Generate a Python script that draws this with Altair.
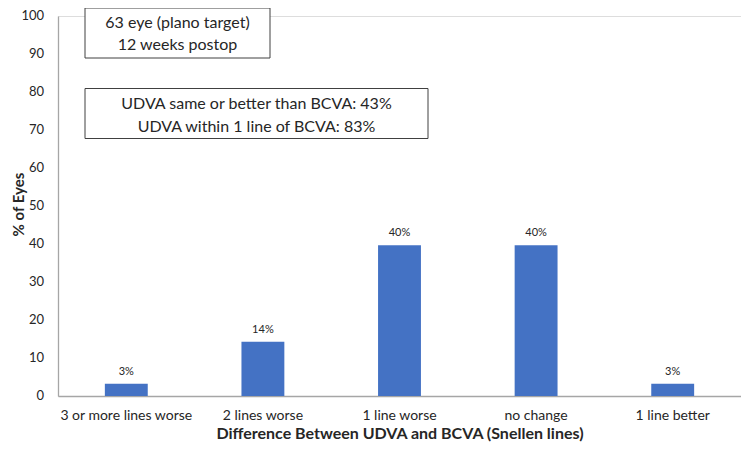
import altair as alt
import pandas as pd

categories = ["3 or more lines worse", "2 lines worse", "1 line worse", "no change", "1 line better"]
percent = [3.2, 14.3, 39.7, 39.7, 3.2]
labels = ["3%", "14%", "40%", "40%", "3%"]
y_ticks = [0, 10, 20, 30, 40, 50, 60, 70, 80, 90, 100]
box1_lines = ["63 eye (plano target)", "12 weeks postop"]
box2_lines = ["UDVA same or better than BCVA: 43%", "UDVA within 1 line of BCVA: 83%"]

df = pd.DataFrame({"cat": categories, "pct": percent, "lab": labels})
dt = pd.DataFrame({"v": y_ticks, "t": [str(v) for v in y_ticks]})

FONT = "Lato"
TXT = "#262626"

yscale = alt.Scale(domain=[0, 100], nice=False)
yaxis = alt.Axis(title="% of Eyes", values=y_ticks, labels=False,
                 grid=False, ticks=False,
                 titleFontSize=15, titleFont=FONT, titleColor=TXT, titleFontWeight="bold",
                 titleX=-40, titleY=188, titleAngle=270, titleAlign="center",
                 titleBaseline="middle",
                 domainColor="#a6a6a6", domainWidth=1.3)

x_enc = alt.X("cat:N", sort=categories,
              scale=alt.Scale(paddingInner=0.686, paddingOuter=0.343),
              axis=alt.Axis(title="Difference Between UDVA and BCVA (Snellen lines)",
                            labelAngle=0, ticks=False, labelPadding=12,
                            labelFontSize=14, labelFont=FONT, labelColor=TXT,
                            titleFontSize=16, titleFont=FONT, titleColor=TXT, titleFontWeight="bold",
                            titleY=37, titleBaseline="middle",
                            domainColor="#a6a6a6", domainWidth=1.3))
y_enc = alt.Y("pct:Q", scale=yscale, axis=yaxis)

base = alt.Chart(df)
bars = base.mark_bar(color="#4472C4").encode(x=x_enc, y=y_enc)
texts = base.mark_text(dy=-12, fontSize=11, font=FONT, color=TXT).encode(
    x=x_enc, y=y_enc, text="lab:N")

ylabels = alt.Chart(dt).mark_text(align="right", baseline="middle", fontSize=13,
                                  font=FONT, color=TXT).encode(
    x=alt.value(-14), y=alt.Y("v:Q", scale=yscale, axis=yaxis), text="t:N")

one = alt.Data(values=[{}])
box1 = alt.Chart(one).mark_rect(fill="white", stroke="#404040", strokeWidth=1).encode(
    x=alt.value(27), x2=alt.value(212), y=alt.value(-8), y2=alt.value(42))
box1_t = alt.Chart(one).mark_text(text=box1_lines, fontSize=16, font=FONT, color=TXT,
                                  lineHeight=22, baseline="middle").encode(
    x=alt.value(119.5), y=alt.value(6.5))
box2 = alt.Chart(one).mark_rect(fill="white", stroke="#404040", strokeWidth=1).encode(
    x=alt.value(27), x2=alt.value(370), y=alt.value(72.5), y2=alt.value(122.5))
box2_t = alt.Chart(one).mark_text(text=box2_lines, fontSize=16, font=FONT, color=TXT,
                                  lineHeight=22.5, baseline="middle").encode(
    x=alt.value(198.5), y=alt.value(88))

chart = alt.layer(bars, texts, ylabels, box1, box1_t, box2, box2_t).properties(
    width=683, height=380,
    autosize=alt.AutoSizeParams(type="none"),
    padding={"left": 50, "top": 8, "right": 0, "bottom": 48},
).configure_view(stroke=None).configure(background="white")

chart.save("out.html", embed_options={"renderer": "svg", "actions": False})
